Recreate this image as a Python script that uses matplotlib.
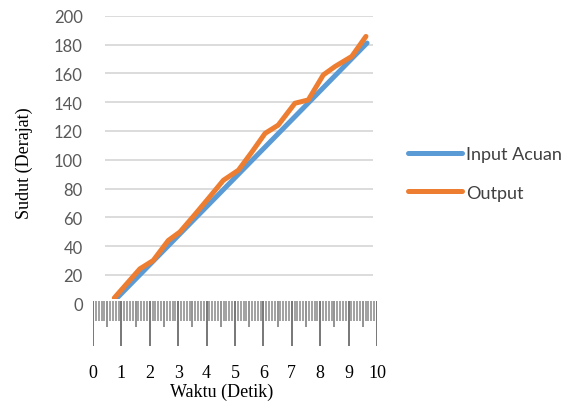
import numpy as np
import matplotlib
matplotlib.use('Agg')
import matplotlib.pyplot as plt

# data
t_input = [0.8, 9.65]
input_acuan = [3, 181]

t_output = [0.75, 1.65, 2.12, 2.65, 3.06, 3.57, 4.08, 4.59, 5.12, 5.6, 6.06, 6.52,
            7.11, 7.58, 8.11, 8.52, 9.11, 9.61]
output = [4, 24.2, 30, 43.9, 49.8, 61.5, 73.5, 85.7, 92.7, 105.5, 118.3, 124,
          139.2, 141.5, 158.9, 164.7, 171.7, 185.6]

y_ticks = list(range(0, 201, 20))
x_labels = [str(i) for i in range(11)]

W, H = 578, 406
fig = plt.figure(figsize=(W / 100, H / 100), dpi=100)

def px_box(x0, y0, x1, y1):
    return [x0 / W, 1 - y1 / H, (x1 - x0) / W, (y1 - y0) / H]

# pixel <-> data mapping of the ruler: 0 at px 93, 10 at px 377
ppu = (377 - 93) / 10.0

ax = fig.add_axes(px_box(105, 16.7, 373, 304.7))
ax.set_xlim((105 - 93) / ppu, (373 - 93) / ppu)
ax.set_ylim(0, 200)
for s in ax.spines.values():
    s.set_visible(False)
ax.set_xticks([])
ax.set_yticks(y_ticks)
ax.tick_params(axis='y', length=0, pad=16, labelsize=12, labelcolor='#595959')
for lab in ax.get_yticklabels():
    lab.set_fontfamily('Lato')
for v in y_ticks[1:]:
    ax.axhline(v, color='#d9d9d9', lw=1.3, zorder=0)

l1, = ax.plot(t_input, input_acuan, color='#5b9bd5', lw=3.6, solid_capstyle='round', zorder=2)
l2, = ax.plot(t_output, output, color='#ed7d31', lw=3.6, solid_capstyle='round',
              solid_joinstyle='round', zorder=3)

# ruler-style time axis
rx = fig.add_axes(px_box(93, 300, 377, 350))
rx.set_xlim(0, 10)
rx.set_ylim(0, 1)
for s in rx.spines.values():
    s.set_visible(False)
rx.set_yticks([])
minor = np.round(np.arange(0, 10.001, 0.1), 1)
short = [m for m in minor if abs(m * 2 - round(m * 2)) > 1e-6]
half = [m for m in minor if abs(m * 2 - round(m * 2)) < 1e-6 and abs(m - round(m)) > 1e-6]
whole = list(range(11))
rx.vlines(short, 0.56, 0.96, color='#9a9a9a', lw=1.3)
rx.vlines(half, 0.44, 0.96, color='#808080', lw=1.2)
rx.vlines(whole, 0.06, 0.96, color='#606060', lw=1.2)
rx.set_xticks(whole)
rx.set_xticklabels(x_labels)
rx.tick_params(axis='x', length=0, pad=11, labelsize=13)
for lab in rx.get_xticklabels():
    lab.set_fontfamily('Liberation Serif')

fig.text(222 / W, 1 - 392 / H, 'Waktu (Detik)', ha='center', va='center',
         fontsize=13, family='Liberation Serif')
fig.text(24 / W, 1 - 163 / H, 'Sudut (Derajat)', ha='center', va='center',
         rotation=90, fontsize=13, family='Liberation Serif')

fig.legend([l1, l2], ['Input Acuan', 'Output'], loc='center left',
           bbox_to_anchor=(408 / W, 1 - 174.5 / H), frameon=False,
           borderpad=0, borderaxespad=0, handlelength=3.0, handletextpad=0.2,
           labelspacing=1.25, prop={'family': 'Lato', 'size': 13},
           labelcolor='#404040')

fig.savefig('out.png', dpi=100)
